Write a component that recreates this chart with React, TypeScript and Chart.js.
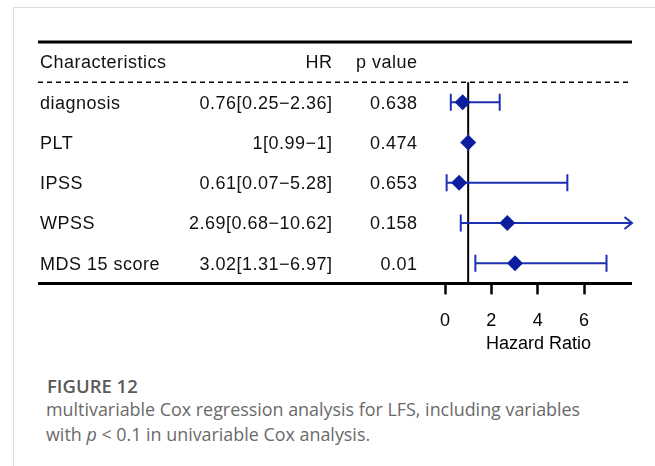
import { useEffect, useRef } from 'react';
import { Chart, registerables } from 'chart.js';

Chart.register(...registerables);

// Multivariable Cox model results
const characteristics = ['diagnosis', 'PLT', 'IPSS', 'WPSS', 'MDS 15 score'];
const hazardRatios = [0.76, 1, 0.61, 2.69, 3.02];
const ciLower = [0.25, 0.99, 0.07, 0.68, 1.31];
const ciUpper = [2.36, 1, 5.28, 10.62, 6.97];
const pValues = ['0.638', '0.474', '0.653', '0.158', '0.01'];
const headerLabels = ['Characteristics', 'HR', 'p value'];
const xTickValues = [0, 2, 4, 6];
const xAxisTitle = 'Hazard Ratio';
const referenceValue = 1;

const hrLabels = hazardRatios.map((v, i) => `${v}[${ciLower[i]}\u2212${ciUpper[i]}]`);

const TABLE_FONT = '18px "Liberation Sans", Arial, Helvetica, sans-serif';
const MARK_COLOR = '#0b1f9e';
const BAR_COLOR = '#1c31b2';

const forestPlugin = {
  id: 'forestTable',
  beforeDatasetsDraw(chart: any) {
    const { ctx, chartArea, scales } = chart;
    const xs = scales.x;
    const ys = scales.y;
    const left = 38;
    const right = chartArea.right;
    const colName = 40;
    const colHR = 332.5;
    const colP = 417.5;
    const baseOff = 6.3;

    ctx.save();

    // table text
    ctx.font = TABLE_FONT;
    (ctx as any).letterSpacing = '0.5px';
    ctx.fillStyle = '#111';
    ctx.textBaseline = 'alphabetic';
    const hy = ys.getPixelForValue(0) + baseOff;
    ctx.textAlign = 'left';
    ctx.fillText(headerLabels[0], colName, hy);
    ctx.textAlign = 'right';
    ctx.fillText(headerLabels[1], colHR, hy);
    ctx.fillText(headerLabels[2], colP, hy);
    characteristics.forEach((name, i) => {
      const ty = ys.getPixelForValue(i + 1) + baseOff;
      ctx.textAlign = 'left';
      ctx.fillText(name, colName, ty);
      ctx.textAlign = 'right';
      ctx.fillText(hrLabels[i], colHR, ty);
      ctx.fillText(pValues[i], colP, ty);
    });
    (ctx as any).letterSpacing = '0px';

    // solid rules above header and below the last row
    ctx.strokeStyle = '#000';
    ctx.lineWidth = 3;
    ctx.beginPath();
    ctx.moveTo(left, chartArea.top);
    ctx.lineTo(right, chartArea.top);
    ctx.moveTo(left, chartArea.bottom);
    ctx.lineTo(right, chartArea.bottom);
    ctx.stroke();

    // dashed rule under the header
    const dashY = ys.getPixelForValue(0.5);
    ctx.lineWidth = 1.5;
    ctx.setLineDash([5, 4]);
    ctx.beginPath();
    ctx.moveTo(left, dashY);
    ctx.lineTo(right, dashY);
    ctx.stroke();
    ctx.setLineDash([]);

    // reference line at HR = 1
    const refX = xs.getPixelForValue(referenceValue);
    ctx.lineWidth = 2;
    ctx.beginPath();
    ctx.moveTo(refX, dashY);
    ctx.lineTo(refX, chartArea.bottom);
    ctx.stroke();

    // confidence intervals
    ctx.strokeStyle = BAR_COLOR;
    ctx.lineWidth = 2;
    const capH = 8.5;
    hazardRatios.forEach((_, i) => {
      const cy = ys.getPixelForValue(i + 1);
      const x0 = xs.getPixelForValue(Math.max(ciLower[i], xs.min));
      const clipped = ciUpper[i] > xs.max;
      const x1 = xs.getPixelForValue(Math.min(ciUpper[i], xs.max));
      ctx.beginPath();
      ctx.moveTo(x0, cy);
      ctx.lineTo(x1, cy);
      ctx.moveTo(x0, cy - capH);
      ctx.lineTo(x0, cy + capH);
      if (clipped) {
        ctx.moveTo(x1 - 7.5, cy - 6);
        ctx.lineTo(x1, cy);
        ctx.lineTo(x1 - 7.5, cy + 6);
      } else {
        ctx.moveTo(x1, cy - capH);
        ctx.lineTo(x1, cy + capH);
      }
      ctx.stroke();
    });

    ctx.restore();
  },
};

function ForestChart() {
  const canvasRef = useRef<HTMLCanvasElement | null>(null);

  useEffect(() => {
    const canvas = canvasRef.current;
    if (!canvas) return;
    const chart = new Chart(canvas, {
      type: 'scatter',
      data: {
        datasets: [
          {
            data: hazardRatios.map((v, i) => ({ x: v, y: i + 1 })),
            pointStyle: 'rectRot',
            pointRadius: 8,
            pointHoverRadius: 8,
            backgroundColor: MARK_COLOR,
            borderColor: MARK_COLOR,
            borderWidth: 0,
          },
        ],
      },
      options: {
        responsive: false,
        animation: false,
        events: [],
        layout: { padding: { left: 445, right: 23, top: 42, bottom: 4 } },
        plugins: {
          legend: { display: false },
          tooltip: { enabled: false },
        },
        scales: {
          x: {
            type: 'linear',
            min: 0,
            max: 8.07,
            border: { display: false },
            grid: {
              drawOnChartArea: false,
              drawTicks: true,
              tickLength: 11,
              tickWidth: 2.5,
              tickColor: '#000',
            },
            afterBuildTicks: (scale: any) => {
              scale.ticks = xTickValues.map((v) => ({ value: v }));
            },
            ticks: {
              padding: 16,
              color: '#000',
              font: { family: '"Liberation Sans", Arial, sans-serif', size: 18 },
              callback: (v: any) => String(v),
            },
            title: {
              display: true,
              text: xAxisTitle,
              color: '#000',
              padding: { top: -13, bottom: -2 },
              font: { family: '"Liberation Sans", Arial, sans-serif', size: 18, lineHeight: 1.0 },
            },
          },
          y: {
            type: 'linear',
            display: false,
            reverse: true,
            min: -0.5,
            max: 5.5,
          },
        },
      },
      plugins: [forestPlugin],
    });
    return () => chart.destroy();
  }, []);

  return <canvas ref={canvasRef} width={655} height={355} style={{ position: 'absolute', left: 0, top: 0 }} />;
}

export default function App() {
  const captionFont = '"Open Sans", "Noto Sans", sans-serif';
  return (
    <div style={{ position: 'fixed', left: 0, top: 0, width: 655, height: 466, background: '#fff', overflow: 'hidden' }}>
      <div
        style={{
          position: 'absolute',
          left: 13,
          top: 7,
          right: 0,
          bottom: 0,
          borderTop: '1px solid #dcdcdc',
          borderLeft: '1px solid #dcdcdc',
        }}
      />
      <ForestChart />
      <div
        style={{
          position: 'absolute',
          left: 47,
          top: 377,
          fontFamily: captionFont,
          fontSize: 18.5,
          lineHeight: '18.5px',
          fontWeight: 600,
          color: '#5a5a5a',
          whiteSpace: 'nowrap',
        }}
      >
        FIGURE 12
      </div>
      <div
        style={{
          position: 'absolute',
          left: 46,
          top: 397,
          fontFamily: captionFont,
          fontSize: 17.9,
          lineHeight: '25px',
          color: '#6a6a6a',
          whiteSpace: 'nowrap',
        }}
      >
        <div>multivariable Cox regression analysis for LFS, including variables</div>
        <div>
          with <i>p</i> &lt; 0.1 in univariable Cox analysis.
        </div>
      </div>
    </div>
  );
}
